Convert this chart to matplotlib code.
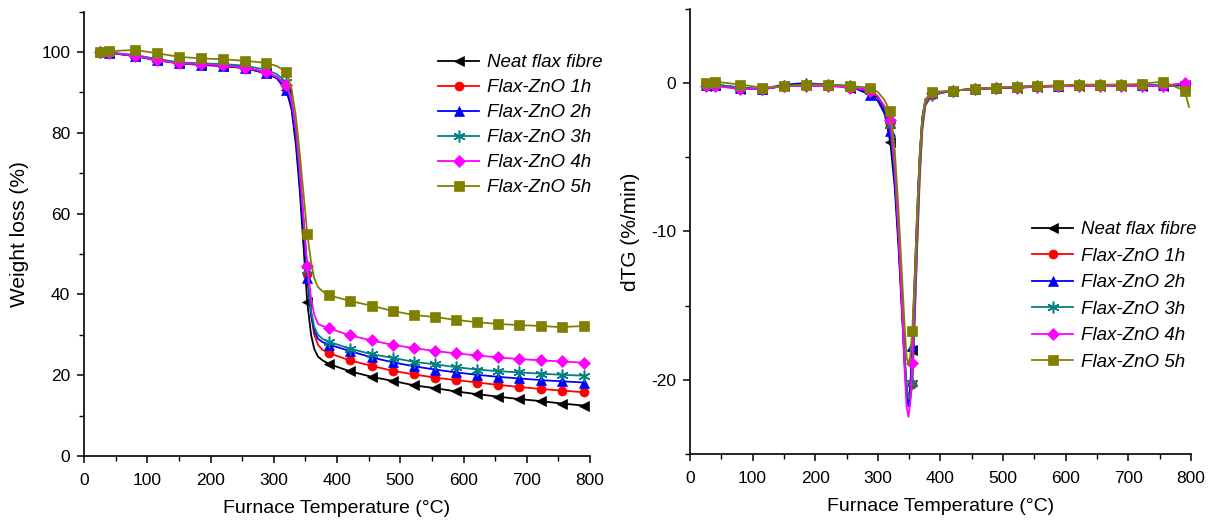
import matplotlib
matplotlib.use("Agg")
import matplotlib.pyplot as plt
from matplotlib.ticker import MultipleLocator

plt.rcParams['font.family'] = ['Liberation Sans', 'DejaVu Sans']
plt.rcParams['axes.unicode_minus'] = False

labels = ["Neat flax fibre", "Flax-ZnO 1h", "Flax-ZnO 2h", "Flax-ZnO 3h", "Flax-ZnO 4h", "Flax-ZnO 5h"]
colors = ["#000000", "#FF0000", "#0000FF", "#008080", "#FF00FF", "#808000"]
markers = ["<", "o", "^", (6, 2, 0), "D", "s"]
marker_sizes = [6.5, 6.5, 6.5, 8.5, 6.5, 6.5]

# ---- TG data ----
tg_temp = [25, 40, 80, 115, 150, 185, 220, 255, 288, 305, 320, 328, 335, 341, 347, 353, 359, 364, 370, 377,
           387, 420, 455, 488, 522, 555, 588, 622, 655, 688, 722, 755, 790]
tg_marker_temp = [25, 40, 80, 115, 150, 185, 220, 255, 288, 320, 353, 387, 420, 455, 488, 522, 555, 588,
                  622, 655, 688, 722, 755, 790]
tg_neat = [100, 99.8, 99, 98, 97.2, 96.8, 96.5, 96, 94.7, 93.5, 90.5, 86, 77, 66, 52, 38, 30, 26.5, 24.6, 23.7,
           22.8, 21, 19.6, 18.6, 17.5, 16.8, 16.0, 15.3, 14.7, 14.1, 13.6, 13.0, 12.5]
tg_1h = [100, 99.8, 99.2, 98.2, 97.3, 97, 96.8, 96.2, 95, 93.8, 91.5, 87.5, 80, 70, 57, 45, 35, 30, 27.5, 26.3,
         25.5, 23.7, 22.3, 21.1, 20.2, 19.4, 18.8, 18.2, 17.6, 17.1, 16.6, 16.2, 15.8]
tg_2h = [100, 99.8, 99, 98, 97.2, 96.9, 96.6, 96, 94.8, 93.5, 90.5, 86.5, 79, 68, 56, 44, 35, 31, 29, 28.2,
         27.6, 26, 24.4, 23.2, 22.2, 21.4, 20.7, 20.1, 19.6, 19.2, 18.8, 18.5, 18.2]
tg_3h = [100, 99.9, 99.2, 98.3, 97.4, 97.2, 97, 96.6, 95.6, 94.5, 92.5, 88.5, 81, 71, 59, 46, 36, 32, 30, 29,
         28.3, 26.6, 25.2, 24.3, 23.3, 22.7, 22.0, 21.4, 21.0, 20.7, 20.4, 20.1, 19.9]
tg_4h = [100, 99.8, 99.1, 98, 97.2, 97, 96.7, 96.1, 95, 93.8, 91.8, 88, 81, 71, 59, 47, 39, 35, 32.7, 32.2,
         31.6, 29.9, 28.6, 27.5, 26.7, 26.0, 25.4, 24.9, 24.4, 24.0, 23.7, 23.4, 23.1]
tg_5h = [100, 100.2, 100.5, 99.7, 98.8, 98.4, 98.2, 97.8, 97.3, 96.5, 95, 91, 84, 75, 65, 55, 48, 44, 41.8, 40.8,
         39.8, 38.4, 37.2, 35.9, 34.9, 34.4, 33.7, 33.1, 32.7, 32.4, 32.2, 31.9, 32.2]

# ---- DTG data ----
dtg_temp = [25, 40, 80, 115, 150, 185, 220, 255, 288, 300, 310, 320, 327, 333, 338, 343, 346, 349, 352, 355,
            359, 363, 367, 371, 376, 387, 420, 455, 488, 522, 555, 588, 622, 655, 688, 722, 755, 790, 797]
dtg_marker_temp = [25, 40, 80, 115, 150, 185, 220, 255, 288, 320, 355, 387, 420, 455, 488, 522, 555, 588,
                   622, 655, 688, 722, 755, 790]
dtg_neat = [-0.2, -0.1, -0.4, -0.4, -0.2, -0.1, -0.1, -0.3, -0.6, -1.0, -1.8, -4.0, -7, -11, -15, -19, -20.8,
            -21.5, -20.5, -18, -13.5, -9, -5, -2.5, -1.2, -0.7, -0.5, -0.4, -0.35, -0.3, -0.25, -0.2, -0.2,
            -0.2, -0.2, -0.2, -0.2, -0.15, -0.2]
dtg_1h = [-0.2, -0.1, -0.4, -0.4, -0.2, -0.1, -0.1, -0.3, -0.5, -0.9, -1.6, -2.8, -6, -10, -14, -18.5, -20.5,
          -21.5, -21.3, -20.3, -16, -11, -6.5, -3.2, -1.5, -0.8, -0.5, -0.4, -0.35, -0.3, -0.25, -0.2, -0.2,
          -0.2, -0.2, -0.2, -0.2, -0.1, -0.2]
dtg_2h = [-0.1, -0.1, -0.3, -0.4, -0.1, 0.0, -0.1, -0.2, -0.8, -1.2, -2.0, -3.2, -6.5, -10.5, -14.5, -19, -21,
          -21.8, -20.5, -17.7, -13, -8.5, -4.8, -2.3, -1.1, -0.7, -0.5, -0.4, -0.3, -0.25, -0.2, -0.2, -0.15,
          -0.15, -0.15, -0.15, -0.15, -0.1, -0.2]
dtg_3h = [-0.1, -0.1, -0.3, -0.4, -0.2, -0.1, -0.1, -0.2, -0.5, -0.9, -1.6, -2.8, -6, -10, -14, -18.5, -20.3,
          -21.3, -21, -20.2, -15.5, -10.5, -6, -3, -1.4, -0.8, -0.5, -0.4, -0.3, -0.25, -0.2, -0.2, -0.15,
          -0.15, -0.15, -0.15, -0.15, -0.05, -0.2]
dtg_4h = [-0.2, -0.2, -0.4, -0.4, -0.2, -0.2, -0.2, -0.3, -0.5, -0.9, -1.5, -2.5, -5.5, -10, -14.5, -19.5, -21.8,
          -22.5, -21.5, -18.9, -14, -9, -5, -2.5, -1.2, -0.7, -0.5, -0.4, -0.3, -0.3, -0.25, -0.2, -0.2,
          -0.2, -0.2, -0.2, -0.2, 0.0, -0.1]
dtg_5h = [0.0, 0.1, -0.1, -0.3, -0.2, -0.1, -0.1, -0.2, -0.3, -0.6, -1.1, -1.9, -4.5, -8.5, -12.5, -16.5, -18.5,
          -19, -18.3, -16.7, -13, -8.5, -4.8, -2.4, -1.1, -0.6, -0.5, -0.4, -0.3, -0.25, -0.2, -0.15, -0.1,
          -0.1, -0.1, -0.05, 0.1, -0.5, -1.6]

tg_series = [tg_neat, tg_1h, tg_2h, tg_3h, tg_4h, tg_5h]
dtg_series = [dtg_neat, dtg_1h, dtg_2h, dtg_3h, dtg_4h, dtg_5h]

fig = plt.figure(figsize=(12.09, 5.26), dpi=100)
ax1 = fig.add_axes([0.0695, 0.133, 0.4185, 0.845])
ax2 = fig.add_axes([0.5707, 0.137, 0.4143, 0.846])

tg_idx = [tg_temp.index(t) for t in tg_marker_temp]
dtg_idx = [dtg_temp.index(t) for t in dtg_marker_temp]

for ys, lab, c, m, ms in zip(tg_series, labels, colors, markers, marker_sizes):
    ax1.plot(tg_temp, ys, color=c, marker=m, markevery=tg_idx, markersize=ms, lw=1.3, label=lab,
             markeredgewidth=1.1 if m == (6, 2, 0) else 0.5)
for ys, lab, c, m, ms in zip(dtg_series, labels, colors, markers, marker_sizes):
    ax2.plot(dtg_temp, ys, color=c, marker=m, markevery=dtg_idx, markersize=ms, lw=1.3, label=lab,
             markeredgewidth=1.1 if m == (6, 2, 0) else 0.5)

for ax in (ax1, ax2):
    ax.set_xlim(0, 800)
    ax.spines['top'].set_visible(False)
    ax.spines['right'].set_visible(False)
    ax.spines['left'].set_linewidth(1.2)
    ax.spines['bottom'].set_linewidth(1.2)
    ax.xaxis.set_major_locator(MultipleLocator(100))
    ax.xaxis.set_minor_locator(MultipleLocator(50))
    ax.tick_params(which='major', direction='out', length=5, width=1.1, labelsize=12.5)
    ax.tick_params(which='minor', direction='out', length=3.5, width=1.0)
    ax.tick_params(axis='x', which='major', pad=7)
    ax.tick_params(axis='y', which='major', pad=5)
    ax.set_xlabel("Furnace Temperature (°C)", fontsize=14, labelpad=9)

ax1.set_ylim(0, 110)
ax1.yaxis.set_major_locator(MultipleLocator(20))
ax1.yaxis.set_minor_locator(MultipleLocator(10))
ax1.set_ylabel("Weight loss (%)", fontsize=15, labelpad=9)

ax2.set_ylim(-25, 5)
ax2.yaxis.set_major_locator(MultipleLocator(10))
ax2.yaxis.set_minor_locator(MultipleLocator(5))
ax2.set_ylabel("dTG (%/min)", fontsize=15, labelpad=8)

leg_kw = dict(frameon=False, loc='upper left', handlelength=2.2, handletextpad=0.4, borderpad=0,
              borderaxespad=0, prop={'style': 'italic', 'size': 13.5})
ax1.legend(bbox_to_anchor=(0.70, 0.904), labelspacing=0.42, **leg_kw)
ax2.legend(bbox_to_anchor=(0.683, 0.523), labelspacing=0.5, **leg_kw)

fig.savefig("out.png", dpi=100)
